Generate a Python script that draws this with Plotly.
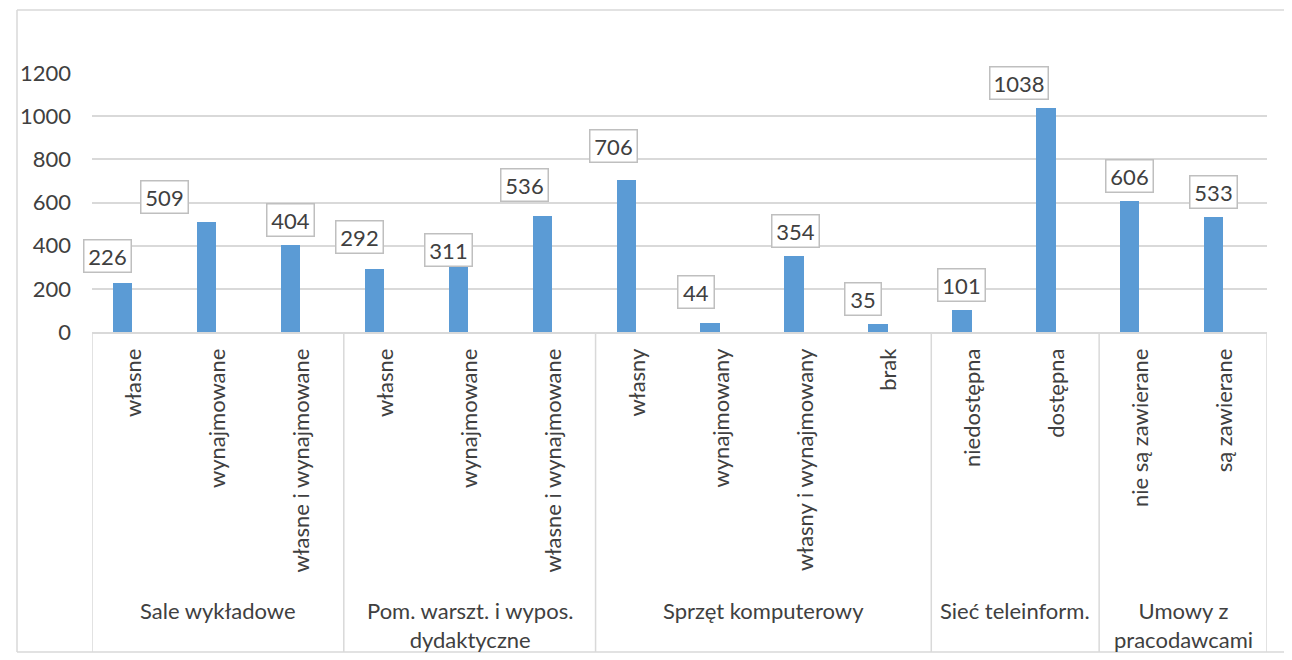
import plotly.graph_objects as go

# ---- data ----
groups = ["Sale wykładowe", "Pom. warszt. i wypos.<br>dydaktyczne", "Sprzęt komputerowy",
          "Sieć teleinform.", "Umowy z<br>pracodawcami"]
group_sizes = [3, 3, 4, 2, 2]
categories = ["własne", "wynajmowane", "własne i wynajmowane",
              "własne", "wynajmowane", "własne i wynajmowane",
              "własny", "wynajmowany", "własny i wynajmowany", "brak",
              "niedostępna", "dostępna",
              "nie są zawierane", "są zawierane"]
values = [226, 509, 404, 292, 311, 536, 706, 44, 354, 35, 101, 1038, 606, 533]
y_ticks = [0, 200, 400, 600, 800, 1000, 1200]

# manual label nudges (px) as in the reference
label_dx = [-15, -42, 0, -15, -10, -18, -13, -14, 1, -15, 0, -27, 0, 0]
label_dy = [2, 0, 0, 7, -10, 6, 9, 6, 0, 0, 0, 0, 0, 0]

FONT = "Lato"
FS = 22
TXT = "#404040"
GRID = "#D9D9D9"
OFF = 8  # page body margin
W, H = 1292 - OFF, 660 - OFF
AXIS_Y = 332 - OFF
L, T = 92 - OFF, 73 - OFF
R = W - (1267 - OFF)
B = H - AXIS_Y
PH = H - T - B
PW = W - L - R

x_idx = list(range(len(values)))

fig = go.Figure()
fig.add_trace(go.Bar(
    x=x_idx, y=values, width=0.23, offset=-0.25,
    marker=dict(color="#5B9BD5", line=dict(width=0)),
    hoverinfo="skip", showlegend=False,
))

annotations = []
for i, v in enumerate(values):
    t = str(v)
    annotations.append(dict(
        x=i - 0.25 + 0.115, y=v, xref="x", yref="y", text=t, showarrow=False,
        yanchor="bottom", xanchor="center",
        xshift=label_dx[i], yshift=8 + label_dy[i],
        font=dict(family=FONT, size=FS, color=TXT),
        bgcolor="white", bordercolor="#BFBFBF", borderwidth=1.5, borderpad=1,
        width=11 * len(t) + 11, height=29,
    ))

def py(pix):
    # pix is in reference-image pixel coordinates
    return (H - B - (pix - OFF)) / PH

def px(pix):
    return (pix - OFF - L) / PW

shapes = []
# outer chart border (top, left, bottom; right edge lies outside the view)
border = dict(xref="paper", yref="paper", type="line",
              line=dict(color=GRID, width=1.5), layer="below")
shapes.append(dict(border, x0=px(17), x1=px(1300), y0=py(10), y1=py(10)))
shapes.append(dict(border, x0=px(17), x1=px(17), y0=py(10), y1=py(652)))
shapes.append(dict(border, x0=px(17), x1=px(1300), y0=py(652), y1=py(652)))
# group dividers + group labels
start = 0
bounds = [-0.5]
for g, n in zip(groups, group_sizes):
    end = start + n
    bounds.append(end - 0.5)
    annotations.append(dict(
        x=(start + end - 1) / 2, y=py(595), xref="x", yref="paper", text=g,
        showarrow=False, xanchor="center", yanchor="top",
        font=dict(family=FONT, size=FS, color=TXT),
    ))
    start = end
for b in bounds:
    shapes.append(dict(type="line", xref="x", yref="paper", x0=b, x1=b,
                       y0=0, y1=py(652), line=dict(color=GRID, width=1.5)))

fig.update_layout(
    width=W, height=H,
    margin=dict(l=L, r=R, t=T, b=B),
    paper_bgcolor="white", plot_bgcolor="white",
    font=dict(family=FONT, size=FS, color=TXT),
    bargap=0,
    shapes=shapes, annotations=annotations,
)
fig.update_xaxes(
    range=[-0.5, len(values) - 0.5], tickmode="array",
    tickvals=x_idx, ticktext=categories, tickangle=-90,
    showgrid=False, zeroline=False, showline=True, linecolor=GRID, linewidth=1.5,
    ticks="", ticklabelstandoff=6, tickfont=dict(family=FONT, size=FS, color=TXT),
    fixedrange=True,
)
fig.update_yaxes(
    range=[0, 1200], tickmode="array", tickvals=y_ticks,
    showgrid=True, gridcolor=GRID, gridwidth=1.5, zeroline=False, showline=False,
    ticks="", ticklabelstandoff=20, tickfont=dict(family=FONT, size=FS, color=TXT),
    fixedrange=True,
)

fig.write_html(
    "out.html", config={"displayModeBar": False},
    post_script="document.documentElement.style.overflow='hidden';"
                "document.body.style.overflow='hidden';",
)
